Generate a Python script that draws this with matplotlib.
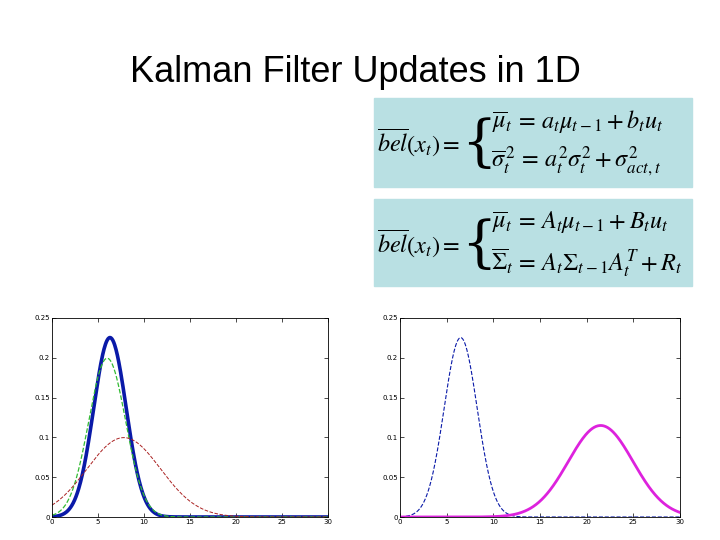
import numpy as np
import matplotlib
matplotlib.use("Agg")
import matplotlib.pyplot as plt
from matplotlib.patches import Rectangle

# Gaussian parameters (mean, sigma)
left_means = [6.3, 6.0, 7.8]
left_sigmas = [1.77, 2.0, 4.0]
left_colors = ['#0a1aa8', '#33bb33', '#aa2222']
left_styles = ['-', '--', '--']
left_widths = [2.6, 0.9, 0.7]
right_means = [6.5, 21.5]
right_sigmas = [1.77, 3.47]
right_colors = ['#0a1aa8', '#dd22dd']
right_styles = ['--', '-']
right_widths = [0.8, 2.0]
xticks = [0, 5, 10, 15, 20, 25, 30]
yticks = [0, 0.05, 0.1, 0.15, 0.2, 0.25]

x = np.linspace(0, 30, 600)
def g(m, s):
    return np.exp(-0.5 * ((x - m) / s) ** 2) / (s * np.sqrt(2 * np.pi))

fig = plt.figure(figsize=(7.2, 5.4), dpi=100)
fig.text(0.493, 0.865, "Kalman Filter Updates in 1D", ha='center', va='center',
         fontsize=26, family='Liberation Sans')

def box(y0, y1):
    fig.patches.append(Rectangle((374/720, 1-y1/540), 318/720, (y1-y0)/540,
                                 transform=fig.transFigure, color='#b9e0e3', zorder=0))
box(98, 187)
box(199, 286)
fs = 17.5
for yc, l1, l2 in [(142, r'$\overline{\mu}_t\,=\,a_t\mu_{t-1}+b_tu_t$', r'$\overline{\sigma}_t^{\,2}\,=\,a_t^2\sigma_t^2+\sigma_{act,t}^2$'),
                   (243, r'$\overline{\mu}_t\,=\,A_t\mu_{t-1}+B_tu_t$', r'$\overline{\Sigma}_t\,=\,A_t\Sigma_{t-1}A_t^T+R_t$')]:
    fig.text(377/720, 1-yc/540, r'$\overline{bel}(x_t)=$', fontsize=fs, va='center', math_fontfamily='stix')
    fig.text(461/720, 1-(yc+3)/540, '{', fontsize=40, va='center', family='DejaVu Serif', fontweight='light')
    fig.text(492/720, 1-(yc-20)/540, l1, fontsize=fs, va='center', math_fontfamily='stix')
    fig.text(491/720, 1-(yc+20)/540, l2, fontsize=fs, va='center', math_fontfamily='stix')

def setup(ax):
    ax.set_xlim(0, 30)
    ax.set_ylim(0, 0.25)
    ax.set_xticks(xticks)
    ax.set_yticks(yticks)
    ax.set_xticklabels([str(t) for t in xticks])
    ax.set_yticklabels(['0', '0.05', '0.1', '0.15', '0.2', '0.25'])
    ax.tick_params(labelsize=5, direction='in', length=3, width=0.5, top=True, right=True, pad=1.5)
    for s in ax.spines.values():
        s.set_linewidth(0.6)

ax1 = fig.add_axes([52/720, 1-517/540, 276/720, 199/540])
for m, s, c, ls, lw in zip(left_means, left_sigmas, left_colors, left_styles, left_widths):
    ax1.plot(x, g(m, s), color=c, ls=ls, lw=lw)
setup(ax1)
ax2 = fig.add_axes([400/720, 1-517/540, 280/720, 199/540])
for m, s, c, ls, lw in zip(right_means, right_sigmas, right_colors, right_styles, right_widths):
    ax2.plot(x, g(m, s), color=c, ls=ls, lw=lw)
setup(ax2)
fig.savefig("out.png", dpi=100)
